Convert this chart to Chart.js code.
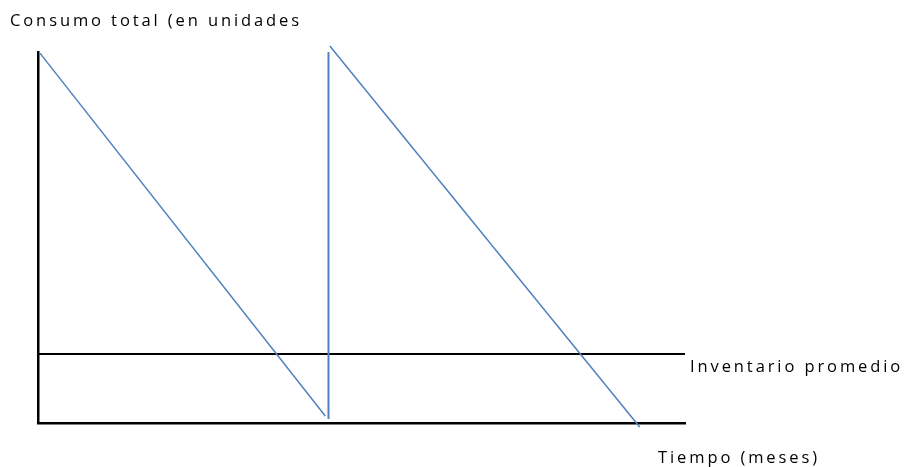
<!DOCTYPE html>
<html>
<head>
<meta charset="utf-8">
<script src="https://cdn.jsdelivr.net/npm/chart.js@4"></script>
<style>
html,body{margin:0;padding:0;background:#fff;}
#wrap{width:906px;height:467px;position:relative;}
</style>
</head>
<body>
<div id="wrap"><canvas id="c" width="906" height="467"></canvas></div>
<script>
// Sawtooth inventory (time in months, stock in units)
const cycle1X = [0.03, 4.44];
const cycle1Y = [99.7, 1.9];
const refillX = [4.49, 4.49];
const refillY = [1.1, 100];
const cycle2X = [4.51, 9.30];
const cycle2Y = [101.6, -1.1];
const averageX = [0, 10];
const averageY = [18.6, 18.6];
const yTitle = "Consumo total (en unidades";
const xTitle = "Tiempo (meses)";
const averageLabel = "Inventario promedio";

const pts = (xs, ys) => xs.map((x, i) => ({x, y: ys[i]}));
const blue = '#4F81BD';

const textPlugin = {
  id: 'texts',
  afterDraw(chart) {
    const ctx = chart.ctx;
    const a = chart.chartArea;
    const ys = chart.scales.y;
    ctx.save();
    ctx.fillStyle = '#000';
    ctx.font = '16.5px "Open Sans"';
    ctx.textBaseline = 'alphabetic';
    ctx.textAlign = 'left';
    ctx.letterSpacing = '2.9px';
    ctx.fillText(yTitle, 10, 26);
    ctx.fillText(averageLabel, a.right + 5, ys.getPixelForValue(averageY[1]) + 18);
    ctx.fillText(xTitle, a.right - 27, 463);
    ctx.restore();
  }
};

new Chart(document.getElementById('c'), {
  type: 'scatter',
  data: {
    datasets: [
      {data: pts(cycle1X, cycle1Y), showLine: true, borderColor: blue, borderWidth: 1.5, pointRadius: 0, clip: false},
      {data: pts(refillX, refillY), showLine: true, borderColor: blue, borderWidth: 2, pointRadius: 0, clip: false},
      {data: pts(cycle2X, cycle2Y), showLine: true, borderColor: blue, borderWidth: 1.5, pointRadius: 0, clip: false},
      {data: pts(averageX, averageY), showLine: true, borderColor: '#000', borderWidth: 2, pointRadius: 0, clip: false}
    ]
  },
  options: {
    responsive: false,
    animation: false,
    events: [],
    layout: {padding: {left: 38, right: 221, top: 52, bottom: 44}},
    plugins: {legend: {display: false}, tooltip: {enabled: false}, title: {display: false}},
    scales: {
      x: {type: 'linear', min: 0, max: 10,
          ticks: {display: false}, grid: {display: false, drawTicks: false},
          border: {display: true, color: '#000', width: 2.5}},
      y: {type: 'linear', min: 0, max: 100,
          ticks: {display: false}, grid: {display: false, drawTicks: false},
          border: {display: true, color: '#000', width: 2.5}}
    }
  },
  plugins: [textPlugin]
});
</script>
</body>
</html>
